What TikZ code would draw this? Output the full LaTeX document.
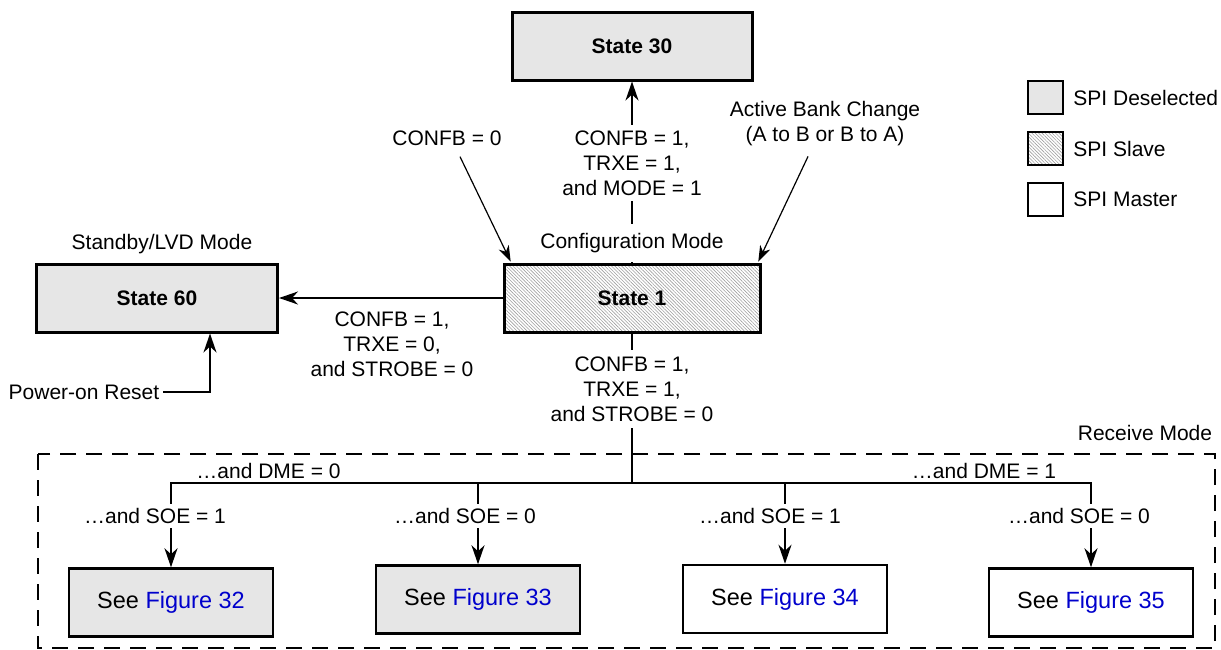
\documentclass[tikz,border=0pt]{standalone}
\usepackage{fontspec}
\setmainfont{Liberation Sans}
\usetikzlibrary{arrows.meta,patterns.meta}
\definecolor{desel}{RGB}{230,230,230}
\definecolor{figblue}{RGB}{0,0,204}
\begin{document}
\begin{tikzpicture}[x=1pt,y=-1pt,
  lbl/.style={font=\fontsize{21}{25}\selectfont, inner sep=1pt, align=center},
  wlbl/.style={lbl, fill=white, inner xsep=4pt, inner ysep=5.5pt},
  statebox/.style={draw, line width=3pt, minimum width=#1, minimum height=68pt,
                   font=\fontsize{21}{25}\selectfont\bfseries, inner sep=0pt},
  figbox/.style={draw, line width=2.5pt, minimum width=204pt, minimum height=68pt,
                 font=\fontsize{23.5}{28}\selectfont, inner sep=0pt},
  legbox/.style={draw, line width=2.5pt, minimum width=35pt, minimum height=33pt, inner sep=0pt},
  desfill/.style={fill=desel},
  hatch/.style={pattern={Lines[angle=-45,distance=2.4pt,line width=0.6pt]}, pattern color=gray!75},
  arr/.style={line width=2pt, -{Stealth[length=19pt,width=13pt,inset=6pt]}},
  thinarr/.style={line width=1.2pt, -{Stealth[length=16pt,width=11pt,inset=5pt]}},
  conn/.style={line width=2pt},
  recvbox/.style={draw, line width=2.5pt, dash pattern=on 16pt off 10pt}
]
\useasboundingbox (0,0) rectangle (1221,649);

% main states
\node[statebox=240pt, desfill] (s30) at (632,46) {State 30};
\node[statebox=256pt, hatch] (s1) at (632,298) {State 1};
\node[statebox=241pt, desfill] (s60) at (157,298) {State 60};
\node[lbl] (lvd) at (162,244) {Standby/LVD Mode};

% legend
\node[legbox, desfill] (lg1) at (1045.5,97.5) {};
\node[legbox, hatch] (lg2) at (1045.5,148.5) {};
\node[legbox] (lg3) at (1045.5,199.5) {};
\node[lbl, anchor=west] (lt1) at (lg1.east) [xshift=8pt] {SPI Deselected};
\node[lbl, anchor=west] (lt2) at (lg2.east) [xshift=8pt] {SPI Slave};
\node[lbl, anchor=west] (lt3) at (lg3.east) [xshift=8pt] {SPI Master};

% receive mode region
\draw[recvbox] (38,454) rectangle (1215,648);
\node[lbl] (rm) at (1145,433) {Receive Mode};

% figure boxes
\node[figbox, desfill] (f32) at (171,602.5) {See \textcolor{figblue}{Figure 32}};
\node[figbox, desfill] (f33) at (478,599.5) {See \textcolor{figblue}{Figure 33}};
\node[figbox] (f34) at (785,599) {See \textcolor{figblue}{Figure 34}};
\node[figbox] (f35) at (1091,602.5) {See \textcolor{figblue}{Figure 35}};

% other labels
\node[lbl] (cb0) at (447,138) {CONFB = 0};
\node[lbl] (abc) at (825,124) {Active Bank Change\\(A to B or B to A)};
\node[lbl] (c60) at (392,344) {CONFB = 1,\\TRXE = 0,\\and STROBE = 0};
\node[lbl, inner xsep=4pt] (por) at (84,392) {Power-on Reset};

% connectors
\draw[arr] (s1.north) -- (s30.south);
\draw[arr] (s1.west) -- (s60.east);
\draw[arr] (por.east) -| ([xshift=53pt]s60.south);
\draw[thinarr] ([xshift=13pt,yshift=-10pt]cb0.south) -- ([xshift=7pt,yshift=2pt]s1.north west);
\draw[thinarr] ([xshift=-17pt,yshift=-9pt]abc.south) -- ([xshift=-2pt,yshift=2pt]s1.north east);

\coordinate (split) at (632,483);
\draw[conn] (s1.south) -- (split);
\draw[arr] (split) -| (f32.north);
\draw[arr] (split) -| (f33.north);
\draw[arr] (split) -| (f34.north);
\draw[arr] (split) -| (f35.north);

% labels over connectors
\node[wlbl] (c30) at (632,163) {CONFB = 1,\\TRXE = 1,\\and MODE = 1};
\node[wlbl, inner ysep=9pt] (cfg) at (632,243) {Configuration Mode};
\node[wlbl, inner ysep=7pt] (c1) at (632,389) {CONFB = 1,\\TRXE = 1,\\and STROBE = 0};
\node[lbl] (dme0) at (268.5,471) {…and DME = 0};
\node[lbl] (dme1) at (984,471) {…and DME = 1};
\node[wlbl, inner ysep=4pt] (soe1) at (155,516) {…and SOE = 1};
\node[wlbl, inner ysep=4pt] (soe2) at (465,516) {…and SOE = 0};
\node[wlbl, inner ysep=4pt] (soe3) at (770,516) {…and SOE = 1};
\node[wlbl, inner ysep=4pt] (soe4) at (1079,516) {…and SOE = 0};
\end{tikzpicture}
\end{document}
